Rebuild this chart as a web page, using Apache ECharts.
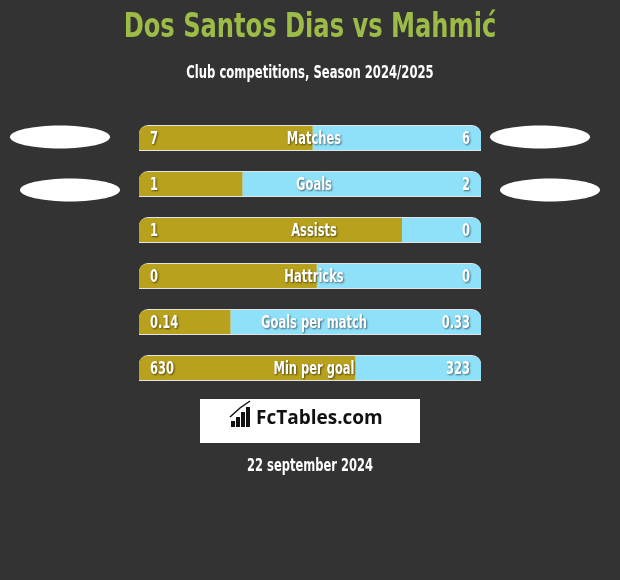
<!DOCTYPE html>
<html><head><meta charset="utf-8">
<script src="https://cdn.jsdelivr.net/npm/echarts@6/dist/echarts.min.js"></script>
<style>html,body{margin:0;padding:0;background:#333333;}#c{width:620px;height:580px;}</style>
</head><body><div id="c"></div>
<script>
var categories = ['Matches','Goals','Assists','Hattricks','Goals per match','Min per goal'];
var leftValues = ['7','1','1','0','0.14','630'];
var rightValues = ['6','2','0','0','0.33','323'];
// share of the bar filled by the left player's colour
var leftShare = [0.508, 0.303, 0.769, 0.52, 0.268, 0.633];
var titleText = 'Dos Santos Dias vs Mahmić';
var subtitleText = 'Club competitions, Season 2024/2025';
var dateText = '22 september 2024';

var FONT = '"DejaVu Sans Condensed","DejaVu Sans",sans-serif';
var OLIVE = '#b8a11c', BLUE = '#8fe1f9';
var shadow = {textShadowColor:'rgba(0,0,0,0.55)', textShadowBlur:2, textShadowOffsetX:1, textShadowOffsetY:1};

var chart = echarts.init(document.getElementById('c'));
var data = categories.map(function(c,i){ return [i, leftShare[i]]; });

function txt(x,y,s,align){
  return {type:'text', x:x, y:y, scaleX:0.71, style:Object.assign({text:s, fill:'#fff', font:'bold 18px '+FONT, align:align, verticalAlign:'middle'}, shadow)};
}

chart.setOption({
  backgroundColor:'#333333',
  animation:false,
  grid:{left:139, right:139, top:115, bottom:189},
  xAxis:{type:'value', min:0, max:1, show:false},
  yAxis:{type:'category', data:categories, inverse:true, show:false},
  series:[{
    type:'custom',
    data:data,
    renderItem:function(params, api){
      var i = api.value(0), s = api.value(1);
      var p0 = api.coord([0,i]), p1 = api.coord([1,i]), ps = api.coord([s,i]);
      var y = p0[1], h = 24, x0 = p0[0], x1 = p1[0], xs = ps[0];
      return {type:'group', children:[
        {type:'rect', shape:{x:x0, y:y-h/2-1, width:x1-x0, height:h+2, r:[9,9,0,0]}, style:{fill:'#e4e4e4'}},
        {type:'rect', shape:{x:x0, y:y-h/2, width:xs-x0, height:h, r:[8,0,0,0]}, style:{fill:OLIVE}},
        {type:'rect', shape:{x:xs, y:y-h/2, width:x1-xs, height:h, r:[0,8,0,0]}, style:{fill:BLUE}},
        txt(x0+11, y+1, leftValues[i], 'left'),
        txt((x0+x1)/2+4, y+1, categories[i], 'center'),
        txt(x1-11, y+1, rightValues[i], 'right')
      ]};
    }
  }],
  graphic:[
    {type:'text', x:310, y:28, scaleX:0.79, style:{text:titleText, fill:'#9cbb47', font:'bold 34px '+FONT, align:'center', verticalAlign:'middle'}},
    {type:'text', x:310, y:74, scaleX:0.76, style:{text:subtitleText, fill:'#fff', font:'bold 17px '+FONT, align:'center', verticalAlign:'middle'}},
    {type:'ellipse', shape:{cx:60, cy:137, rx:50, ry:11.5}, style:{fill:'#fff'}},
    {type:'ellipse', shape:{cx:540, cy:137, rx:50, ry:11.5}, style:{fill:'#fff'}},
    {type:'ellipse', shape:{cx:70, cy:190, rx:50, ry:11.5}, style:{fill:'#fff'}},
    {type:'ellipse', shape:{cx:550, cy:190, rx:50, ry:11.5}, style:{fill:'#fff'}},
    {type:'rect', shape:{x:200, y:399, width:220, height:44}, style:{fill:'#fff'}},
    {type:'rect', shape:{x:231, y:421, width:4, height:6}, style:{fill:'#111'}},
    {type:'rect', shape:{x:236, y:417, width:4, height:10}, style:{fill:'#111'}},
    {type:'rect', shape:{x:241, y:412, width:4, height:15}, style:{fill:'#111'}},
    {type:'rect', shape:{x:246, y:407, width:4, height:20}, style:{fill:'#111'}},
    {type:'polyline', shape:{points:[[230,417],[240,408],[250,401]]}, style:{stroke:'#111', lineWidth:1.5, fill:null}},
    {type:'text', x:256, y:419, style:{text:'FcTables.com', fill:'#111', font:'bold 19px "Open Sans","DejaVu Sans",sans-serif', verticalAlign:'middle'}},
    {type:'text', x:310, y:466, scaleX:0.71, style:{text:dateText, fill:'#fff', font:'bold 18px '+FONT, align:'center', verticalAlign:'middle'}}
  ]
});
</script></body></html>
